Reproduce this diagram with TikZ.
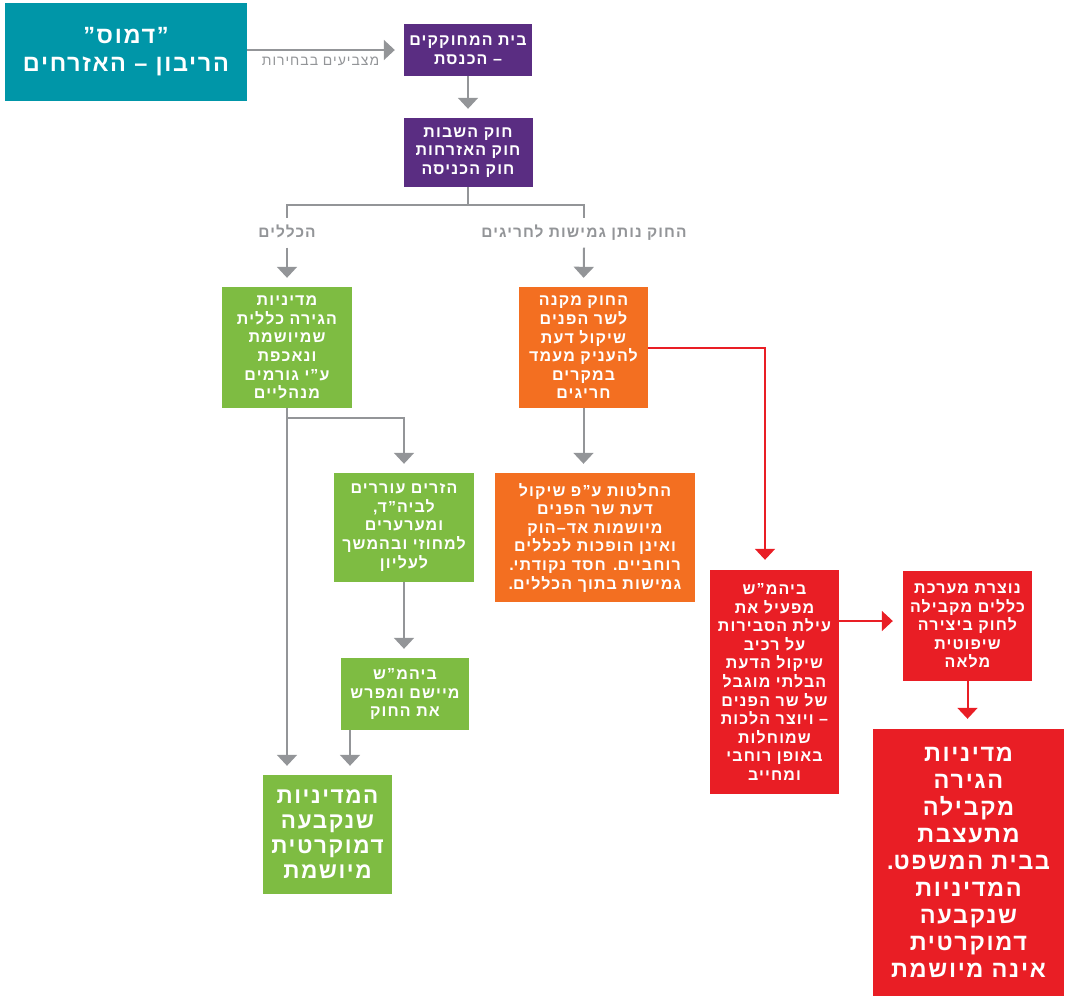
\documentclass[tikz,border=0pt]{standalone}
\usepackage{fontspec}
\newfontfamily\hebfont[Script=Hebrew,LetterSpace=7]{Liberation Sans}
\TeXXeTstate=1
\usetikzlibrary{arrows.meta}

\newcommand{\hb}[1]{\beginR #1\endR}

\definecolor{demosteal}{RGB}{0,150,168}
\definecolor{lawpurple}{RGB}{90,45,130}
\definecolor{rulegreen}{RGB}{126,188,66}
\definecolor{flexorange}{RGB}{243,111,33}
\definecolor{courtred}{RGB}{233,30,37}
\definecolor{arrowgray}{RGB}{147,149,152}

\begin{document}
\begin{tikzpicture}[
    x=1pt, y=-1pt,
    box/.style={rectangle, inner sep=2pt, align=center, text=white,
                font=\hebfont\bfseries\fontsize{16}{18.6}\selectfont},
    bigbox/.style={box, font=\hebfont\bfseries\fontsize{23.5}{27}\selectfont},
    lbl/.style={text=arrowgray, inner xsep=0pt, inner ysep=8pt,
                text height=11pt, text depth=2pt,
                font=\hebfont\bfseries\fontsize{15.5}{18}\selectfont},
    line/.style={draw=arrowgray, line width=2pt},
    arr/.style={line, -{Triangle[width=20pt,length=11pt]}, shorten >=9pt},
    redarr/.style={draw=courtred, line width=2pt,
                   -{Triangle[width=20pt,length=11pt]}, shorten >=10pt},
]
    \useasboundingbox (0,0) rectangle (1068,997);

    % top row
    \node[bigbox, fill=demosteal, minimum width=242pt, minimum height=98pt,
          font=\hebfont\bfseries\fontsize{23.5}{28}\selectfont] (demos) at (126,52)
        {\hb{”דמוס”}\\\hb{הריבון – האזרחים}};
    \node[box, fill=lawpurple, minimum width=128pt, minimum height=52pt] (knesset) at (468,50)
        {\hb{בית המחוקקים}\\\hb{– הכנסת}};
    \node[box, fill=lawpurple, minimum width=129pt, minimum height=69pt] (laws) at (468,152.5)
        {\hb{חוק השבות}\\\hb{חוק האזרחות}\\\hb{חוק הכניסה}};

    % branch labels
    \node[lbl] (lblrules) at (287,233) {\hb{הכללים}};
    \node[lbl] (lblflex) at (584,233) {\hb{החוק נותן גמישות לחריגים}};

    % left branch
    \node[box, fill=rulegreen, minimum width=130pt, minimum height=121pt] (rules) at (287,347.5)
        {\hb{מדיניות}\\\hb{הגירה כללית}\\\hb{שמיושמת}\\\hb{ונאכפת}\\\hb{ע”י גורמים}\\\hb{מנהליים}};
    \node[box, fill=rulegreen, minimum width=140pt, minimum height=109pt] (appeal) at (404,527.5)
        {\hb{הזרים עוררים}\\\hb{לביה”ד\kern0pt,}\\\hb{ומערערים}\\\hb{למחוזי ובהמשך}\\\hb{לעליון}};
    \node[box, fill=rulegreen, minimum width=128pt, minimum height=72pt] (court) at (405,694)
        {\hb{ביהמ”ש}\\\hb{מיישם ומפרש}\\\hb{את החוק}};
    \node[box, fill=rulegreen, minimum width=129pt, minimum height=119pt,
          font=\hebfont\bfseries\fontsize{22.5}{25}\selectfont] (democ) at (327.5,834.5)
        {\hb{המדיניות}\\\hb{שנקבעה}\\\hb{דמוקרטית}\\\hb{מיושמת}};

    % right branch
    \node[box, fill=flexorange, minimum width=129pt, minimum height=121pt] (minister) at (583.5,347.5)
        {\hb{החוק מקנה}\\\hb{לשר הפנים}\\\hb{שיקול דעת}\\\hb{להעניק מעמד}\\\hb{במקרים}\\\hb{חריגים}};
    \node[box, fill=flexorange, minimum width=200pt, minimum height=129pt] (adhoc) at (595,537.5)
        {\hb{החלטות ע”פ שיקול}\\\hb{דעת שר הפנים}\\\hb{מיושמות אד–הוק}\\\hb{ואינן הופכות לכללים}\\
         \hb{רוחביים\kern0pt. חסד נקודתי\kern0pt.}\\\hb{גמישות בתוך הכללים\kern0pt.}};

    % court branch
    \node[box, fill=courtred, minimum width=129pt, minimum height=224pt] (reason) at (774.5,682)
        {\hb{ביהמ”ש}\\\hb{מפעיל את}\\\hb{עילת הסבירות}\\\hb{על רכיב}\\\hb{שיקול הדעת}\\\hb{הבלתי מוגבל}\\
         \hb{של שר הפנים}\\\hb{– ויוצר הלכות}\\\hb{שמוחלות}\\\hb{באופן רוחבי}\\\hb{ומחייב}};
    \node[box, fill=courtred, minimum width=129pt, minimum height=110pt] (parallel) at (967.5,626)
        {\hb{נוצרת מערכת}\\\hb{כללים מקבילה}\\\hb{לחוק ביצירה}\\\hb{שיפוטית}\\\hb{מלאה}};
    \node[bigbox, fill=courtred, minimum width=191pt, minimum height=267pt] (frustr) at (968.5,862.5)
        {\hb{מדיניות}\\\hb{הגירה}\\\hb{מקבילה}\\\hb{מתעצבת}\\\hb{בבית המשפט\kern0pt.}\\
         \hb{המדיניות}\\\hb{שנקבעה}\\\hb{דמוקרטית}\\\hb{אינה מיושמת}};

    % connectors
    \draw[arr] (demos.east |- knesset.west) -- node[below=6pt, xshift=-5pt, text=arrowgray, inner sep=0pt,
        font=\hebfont\fontsize{14}{16}\selectfont] (vote) {\hb{מצביעים בבחירות}} (knesset.west);
    \draw[arr] (knesset) -- (laws);
    \coordinate (split) at (468,205);
    \draw[line] (laws.south) -- (split);
    \draw[line] (split) -| (lblrules.north);
    \draw[line] (split) -| (lblflex.north);
    \draw[arr] (lblrules.south) -- (rules.north);
    \draw[arr] (lblflex.south) -- (minister.north);

    \draw[arr] (rules.south) -- (rules.south |- democ.north);
    \draw[arr] ([yshift=-10pt]rules.south) -| (appeal.north);
    \draw[arr] (appeal.south) -- (appeal.south |- court.north);
    \draw[arr] ([xshift=-55pt]court.south) -- ([xshift=-55pt]court.south |- democ.north);
    \draw[arr] (minister.south) -- (minister.south |- adhoc.north);

    \draw[redarr] (minister.east) -| ([xshift=-9.5pt]reason.north);
    \draw[redarr] ([yshift=5pt]reason.east |- parallel.west) -- ([yshift=5pt]parallel.west);
    \draw[redarr] (parallel.south) -- (parallel.south |- frustr.north);
\end{tikzpicture}
\end{document}
